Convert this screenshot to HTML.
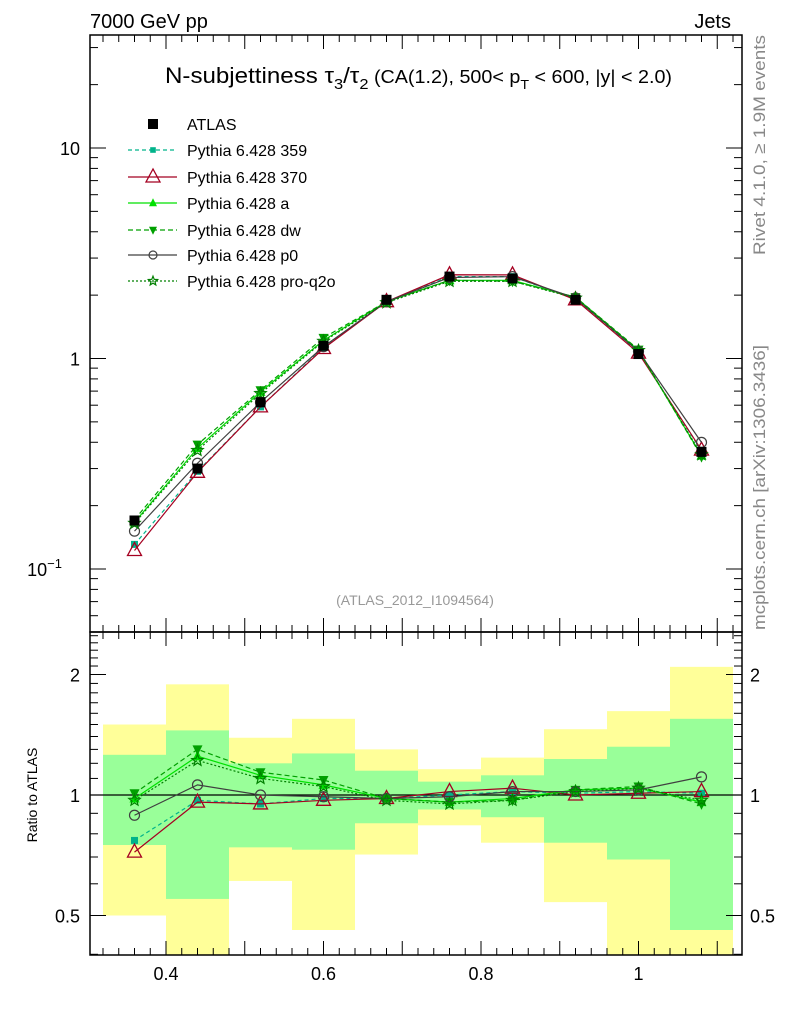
<!DOCTYPE html>
<html><head><meta charset="utf-8"><style>
html,body{margin:0;padding:0;background:#fff;}
svg{display:block;font-family:"Liberation Sans",sans-serif;}
</style></head><body>
<svg id="c" width="786" height="1024" xmlns="http://www.w3.org/2000/svg"></svg>
<script>
const binEdges=[0.32,0.40,0.48,0.56,0.64,0.72,0.80,0.88,0.96,1.04,1.12];
const xCenters=[0.36,0.44,0.52,0.60,0.68,0.76,0.84,0.92,1.00,1.08];
const atlas=[0.17,0.30,0.62,1.15,1.9,2.45,2.4,1.9,1.05,0.36];
const r359=[0.77,0.97,0.95,0.98,0.98,1.00,1.02,1.01,1.02,1.01];
const r370=[0.72,0.96,0.95,0.97,0.98,1.02,1.04,1.00,1.01,1.02];
const rA=[0.98,1.25,1.12,1.06,0.98,0.96,0.98,1.03,1.04,0.96];
const rDW=[1.01,1.30,1.14,1.09,0.98,0.96,0.97,1.03,1.05,0.95];
const rP0=[0.89,1.06,1.00,0.99,0.98,0.99,1.02,1.02,1.03,1.11];
const rQ2O=[0.97,1.22,1.10,1.05,0.97,0.95,0.97,1.02,1.04,0.97];
const greenLo=[0.75,0.55,0.74,0.73,0.85,0.92,0.88,0.76,0.69,0.46];
const greenHi=[1.26,1.45,1.20,1.27,1.15,1.08,1.12,1.23,1.32,1.55];
const yellowLo=[0.50,0.35,0.61,0.46,0.71,0.84,0.76,0.54,0.35,0.35];
const yellowHi=[1.50,1.89,1.39,1.55,1.30,1.16,1.24,1.46,1.62,2.09];
const xTickLabels=[0.4,0.6,0.8,1];

const svg=document.getElementById('c');
const NS='http://www.w3.org/2000/svg';
function el(tag,attrs,parent){const e=document.createElementNS(NS,tag);for(const k in attrs)e.setAttribute(k,attrs[k]);(parent||svg).appendChild(e);return e;}
const L=90,R=742,T1=35,B1=632,B2=955;
const X=v=>166+(v-0.4)*787.5;
const Y1=v=>148-(Math.log10(v)-1)*210.5;
const Y2=v=>795-Math.log2(v)*120.5;

const bands=el('g',{});


const clipR=el('clipPath',{id:'cr'});el('rect',{x:L,y:B1,width:R-L,height:B2-B1},clipR);
const clipM=el('clipPath',{id:'cm'});el('rect',{x:L,y:T1,width:R-L,height:B1-T1},clipM);
bands.setAttribute('clip-path','url(#cr)');
for(let i=0;i<xCenters.length;i++){
  const x0=X(binEdges[i]),x1=X(binEdges[i+1]);
  const y=el('rect',{x:x0,y:Y2(yellowHi[i]),width:x1-x0,height:Y2(yellowLo[i])-Y2(yellowHi[i]),fill:'#ffff99'},bands);
  
  
  const g=el('rect',{x:x0,y:Y2(greenHi[i]),width:x1-x0,height:Y2(greenLo[i])-Y2(greenHi[i]),fill:'#99ff99'},bands);
  
  
}
el('line',{x1:L,x2:R,y1:Y2(1),y2:Y2(1),stroke:'#000','stroke-width':1.2});

el('rect',{x:L,y:T1,width:R-L,height:B1-T1,fill:'none',stroke:'#000','stroke-width':1.5});
el('rect',{x:L,y:B1,width:R-L,height:B2-B1,fill:'none',stroke:'#000','stroke-width':1.5});

for(let k=0;k<=45;k++){const v=0.30+k*0.02;const x=X(v);if(x<L||x>R)continue;
  const major=Math.abs(Math.round(v*10)-v*10)<1e-6;const len=major?14:7;
  for(const [yb,dir] of [[B1,-1],[B2,-1],[T1,1],[B1,1]]){el('line',{x1:x,x2:x,y1:yb,y2:yb+dir*len,stroke:'#000','stroke-width':1});}
}
xTickLabels.forEach(v=>{const t=el('text',{x:X(v),y:980,'font-size':18,'text-anchor':'middle'});t.textContent=String(v);

});

for(let d=-2;d<=1;d++)for(let m=1;m<=9;m++){const v=m*Math.pow(10,d);const y=Y1(v);if(y<T1||y>B1)continue;
  const len=m==1?16:8;el('line',{x1:L,x2:L+len,y1:y,y2:y,stroke:'#000'});el('line',{x1:R,x2:R-len,y1:y,y2:y,stroke:'#000'});}
[[10,'10'],[1,'1']].forEach(([v,s])=>{const t=el('text',{x:80,y:Y1(v)+7,'font-size':18,'text-anchor':'end'});t.textContent=s;

});
{const t=el('text',{x:62,y:Y1(0.1)+7,'font-size':18,'text-anchor':'end'});t.textContent='10';
const s=el('tspan',{dy:-8,'font-size':13},t);s.textContent='−1';

}

for(let k=3;k<=25;k++){const v=k/10;const y=Y2(v);if(y<B1||y>B2)continue;const len=(k==5||k==10||k==20)?16:8;
  el('line',{x1:L,x2:L+len,y1:y,y2:y,stroke:'#000'});el('line',{x1:R,x2:R-len,y1:y,y2:y,stroke:'#000'});}
[[2,'2'],[1,'1'],[0.5,'0.5']].forEach(([v,s])=>{for(const [x,a] of [[80,'end'],[750,'start']]){const t=el('text',{x:x,y:Y2(v)+7,'font-size':18,'text-anchor':a});t.textContent=s;

}});

function marker(g,kind,x,y,col,s){
  s=s||1;
  if(kind=='sq')el('rect',{x:x-5*s,y:y-5*s,width:10*s,height:10*s,fill:col},g);
  else if(kind=='ssq')el('rect',{x:x-3.5*s,y:y-3.5*s,width:7*s,height:7*s,fill:col},g);
  else if(kind=='tri')el('polygon',{points:`${x},${y-8*s} ${x-7*s},${y+5*s} ${x+7*s},${y+5*s}`,fill:'none',stroke:col,'stroke-width':1.3},g);
  else if(kind=='triup')el('polygon',{points:`${x},${y-6*s} ${x-5*s},${y+4*s} ${x+5*s},${y+4*s}`,fill:col},g);
  else if(kind=='tridn')el('polygon',{points:`${x},${y+6*s} ${x-5*s},${y-4*s} ${x+5*s},${y-4*s}`,fill:col},g);
  else if(kind=='circ')el('circle',{cx:x,cy:y,r:5*s,fill:'none',stroke:col,'stroke-width':1.2},g);
  else if(kind=='star'){let p=[];for(let i=0;i<10;i++){const r=i%2?2.6*s:6*s,a=-Math.PI/2+i*Math.PI/5;p.push((x+r*Math.cos(a)).toFixed(1)+','+(y+r*Math.sin(a)).toFixed(1));}
    el('polygon',{points:p.join(' '),fill:'none',stroke:col,'stroke-width':1.2},g);}
}
const series=[
 {name:'Pythia 6.428 359',r:r359,col:'#00b38a',dash:'4,3',m:'ssq',key:'series-359'},
 {name:'Pythia 6.428 370',r:r370,col:'#a50021',dash:'',m:'tri',key:'series-370'},
 {name:'Pythia 6.428 a',r:rA,col:'#00e000',dash:'',m:'triup',key:'series-a'},
 {name:'Pythia 6.428 dw',r:rDW,col:'#00a000',dash:'5,3',m:'tridn',key:'series-dw'},
 {name:'Pythia 6.428 p0',r:rP0,col:'#404040',dash:'',m:'circ',key:'series-p0'},
 {name:'Pythia 6.428 pro-q2o',r:rQ2O,col:'#008000',dash:'2,2',m:'star',key:'series-pro-q2o'}];
series.forEach(s=>{
  for(const [Y,vals,clip] of [[Y1,atlas.map((a,i)=>a*s.r[i]),'cm'],[Y2,s.r,'cr']]){
    const g=el('g',{'clip-path':`url(#${clip})`});
    
    
    el('polyline',{points:xCenters.map((x,i)=>X(x)+','+Y(vals[i])).join(' '),fill:'none',stroke:s.col,'stroke-width':1.2,'stroke-dasharray':s.dash},g);
    xCenters.forEach((x,i)=>marker(g,s.m,X(x),Y(vals[i]),s.col));
  }
});
{const g=el('g',{});


xCenters.forEach((x,i)=>marker(g,'sq',X(x),Y1(atlas[i]),'#000'));}

const leg=el('g',{});


const rows=[124,150,177,203,230,255,281];
marker(leg,'sq',153,rows[0],'#000');
{const t=el('text',{x:187,y:rows[0]+6,'font-size':16},leg);t.textContent='ATLAS';}
series.forEach((s,i)=>{const y=rows[i+1];
  el('line',{x1:128,x2:177,y1:y,y2:y,stroke:s.col,'stroke-width':1.2,'stroke-dasharray':s.dash},leg);
  marker(leg,s.m,153,y,s.col,s.m=='tri'?1:0.8);
  const t=el('text',{x:187,y:y+6,'font-size':16},leg);t.textContent=s.name;
  
  });
</script>
<div style="position:absolute;left:0;top:0;width:786px;height:1024px;pointer-events:none;">
<svg width="786" height="1024" xmlns="http://www.w3.org/2000/svg" style="font-family:'Liberation Sans',sans-serif">
<text x="90" y="28" font-size="20">7000 GeV pp</text>
<text x="731" y="28" font-size="20" text-anchor="end">Jets</text>
<text x="165" y="83" font-size="22" textLength="507" lengthAdjust="spacingAndGlyphs">N-subjettiness τ<tspan font-size="15" dy="6">3</tspan><tspan dy="-6">/τ</tspan><tspan font-size="15" dy="6">2</tspan><tspan dy="-6" font-size="18"> (CA(1.2), 500&lt; p</tspan><tspan font-size="13" dy="6">T</tspan><tspan dy="-6" font-size="18"> &lt; 600, |y| &lt; 2.0)</tspan></text>
<text x="415" y="605" font-size="14" fill="#999" text-anchor="middle">(ATLAS_2012_I1094564)</text>
<text transform="translate(765,255) rotate(-90)" font-size="17" textLength="220" lengthAdjust="spacingAndGlyphs" fill="#888">Rivet 4.1.0, ≥ 1.9M events</text>
<text transform="translate(765,630) rotate(-90)" font-size="17" textLength="285" lengthAdjust="spacingAndGlyphs" fill="#888">mcplots.cern.ch [arXiv:1306.3436]</text>
<text transform="translate(37,795) rotate(-90)" font-size="14" text-anchor="middle">Ratio to ATLAS</text>
</svg></div>
</body></html>
